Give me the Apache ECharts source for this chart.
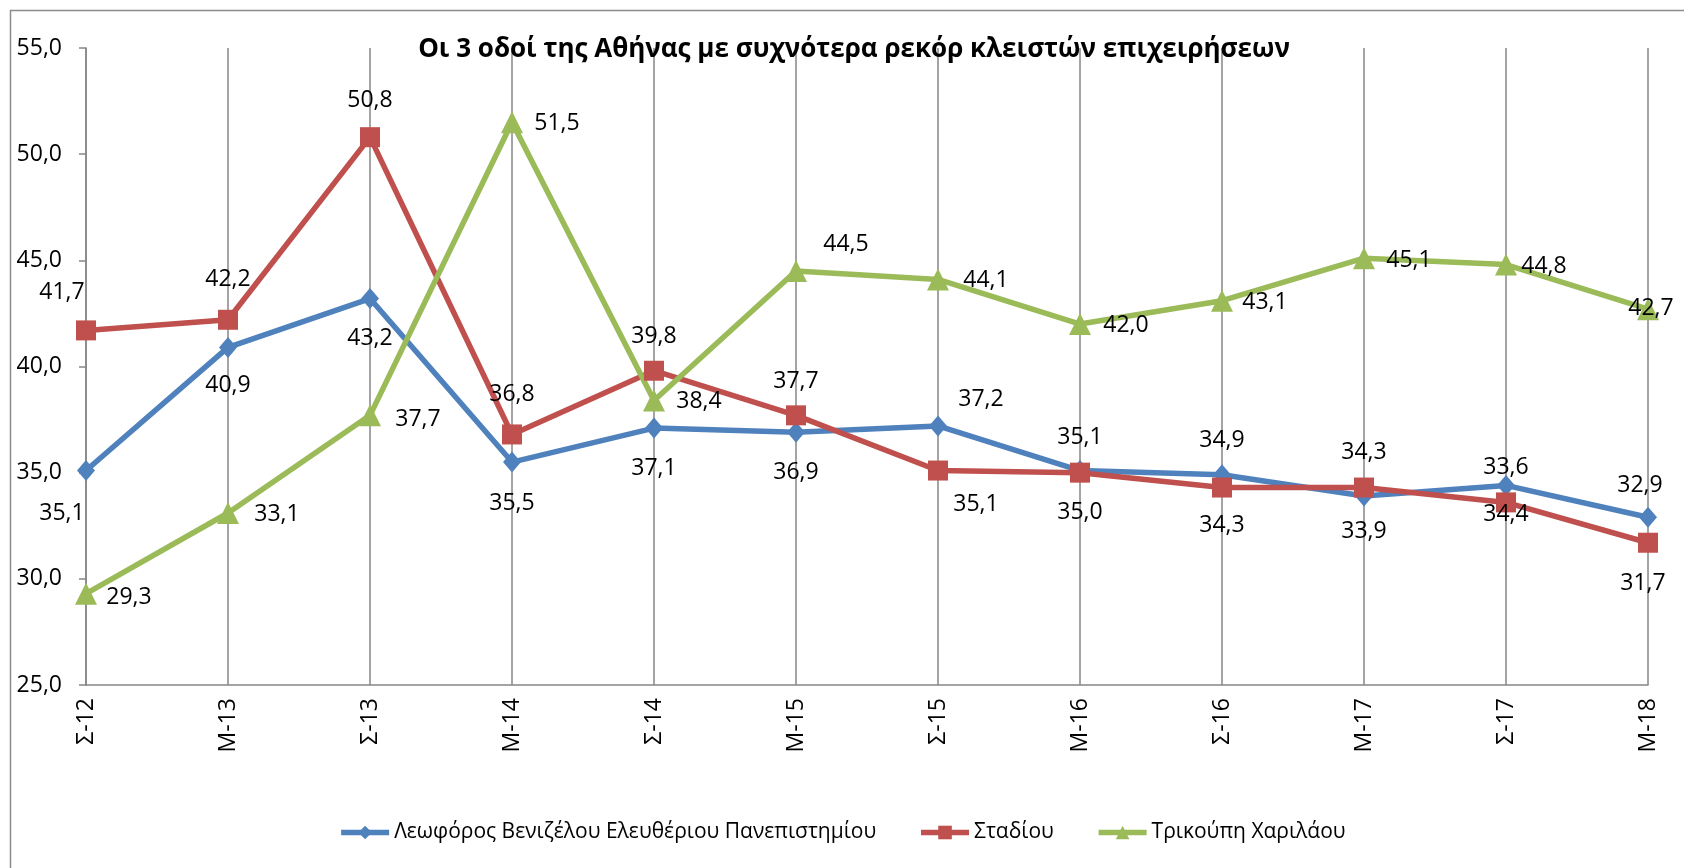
<!DOCTYPE html>
<html>
<head>
<meta charset="utf-8">
<script src="https://cdn.jsdelivr.net/npm/echarts@6/dist/echarts.min.js"></script>
<style>
  html, body { margin: 0; padding: 0; background: #fff; }
  #chart { width: 1684px; height: 868px; }
</style>
</head>
<body>
<div id="chart"></div>
<script>
// Periods (Σ = September, Μ = March)
const categories = ['Σ-12', 'Μ-13', 'Σ-13', 'Μ-14', 'Σ-14', 'Μ-15', 'Σ-15', 'Μ-16', 'Σ-16', 'Μ-17', 'Σ-17', 'Μ-18'];

// Share of closed shops (%) per street
const venizelou = [35.1, 40.9, 43.2, 35.5, 37.1, 36.9, 37.2, 35.1, 34.9, 33.9, 34.4, 32.9];
const stadiou   = [41.7, 42.2, 50.8, 36.8, 39.8, 37.7, 35.1, 35.0, 34.3, 34.3, 33.6, 31.7];
const trikoupi  = [29.3, 33.1, 37.7, 51.5, 38.4, 44.5, 44.1, 42.0, 43.1, 45.1, 44.8, 42.7];

const seriesNames = ['Λεωφόρος Βενιζέλου Ελευθέριου Πανεπιστημίου', 'Σταδίου', 'Τρικούπη Χαριλάου'];
const titleText = 'Οι 3 οδοί της Αθήνας με συχνότερα ρεκόρ κλειστών επιχειρήσεων';

// Label placement (pixel offsets from each marker), kept apart from the values
const blueLabelOffsets  = [[-24, 43], [0, 38], [0, 40], [0, 41], [0, 40], [0, 40], [43, -27], [0, -33], [0, -34], [0, 35], [0, 29], [-8, -32]];
const redLabelOffsets   = [[-24, -38], [0, -40], [0, -37], [0, -40], [0, -34], [0, -34], [38, 34], [0, 40], [0, 38], [0, -35], [0, -35], [-5, 41]];
const greenLabelOffsets = [[43, 4], [49, 1], [48, 4], [45, 1], [45, 1], [50, -26], [48, 1], [46, 1], [43, 2], [45, 2], [38, 2], [3, -1]];

const FONT = 'Open Sans';
const fmt = v => v.toFixed(1).replace('.', ',');

function buildData(values, offsets) {
  return values.map((v, i) => ({
    value: v,
    label: { offset: offsets[i] }
  }));
}

function lineSeries(name, values, offsets, color, symbol, size) {
  return {
    name: name,
    type: 'line',
    data: buildData(values, offsets),
    symbol: symbol,
    symbolSize: size,
    showAllSymbol: true,
    lineStyle: { color: color, width: 5.5 },
    itemStyle: { color: color },
    label: {
      show: true,
      position: 'inside',
      formatter: p => fmt(p.value),
      color: '#000',
      fontFamily: FONT,
      fontSize: 23
    },
    emphasis: { disabled: true },
    animation: false
  };
}

const chart = echarts.init(document.getElementById('chart'), null, { renderer: 'canvas' });

chart.setOption({
  backgroundColor: '#fff',
  animation: false,
  title: {
    text: titleText,
    left: 849,
    top: 32,
    textAlign: 'center',
    textStyle: { fontFamily: FONT, fontWeight: 'bold', fontSize: 26, color: '#000' }
  },
  graphic: [{
    type: 'rect',
    shape: { x: 10.5, y: 10.5, width: 1700, height: 900 },
    style: { fill: 'none', stroke: '#8c8c8c', lineWidth: 1.5 },
    silent: true
  }],
  grid: { left: 86, right: 36, top: 48, bottom: 183, containLabel: false },
  legend: {
    bottom: 20,
    left: 'center',
    itemWidth: 48,
    itemHeight: 17,
    itemGap: 42,
    lineStyle: { width: 5.5 },
    textStyle: { fontFamily: FONT, fontSize: 21, color: '#000' },
    data: seriesNames
  },
  xAxis: {
    type: 'category',
    data: categories,
    boundaryGap: false,
    axisLine: { lineStyle: { color: '#868686', width: 1.5 } },
    axisTick: { show: false },
    axisLabel: { rotate: 90, margin: 13, fontFamily: FONT, fontSize: 23, color: '#000' },
    splitLine: { show: true, lineStyle: { color: '#868686', width: 1.5 } }
  },
  yAxis: {
    type: 'value',
    min: 25,
    max: 55,
    interval: 5,
    axisLine: { show: true, lineStyle: { color: '#868686', width: 1.5 } },
    axisTick: { show: true, length: 7, lineStyle: { color: '#868686', width: 1.5 } },
    axisLabel: { margin: 24, formatter: v => fmt(v), fontFamily: FONT, fontSize: 23, color: '#000' },
    splitLine: { show: false }
  },
  series: [
    lineSeries(seriesNames[0], venizelou, blueLabelOffsets, '#4F81BD', 'diamond', [18, 21]),
    lineSeries(seriesNames[1], stadiou, redLabelOffsets, '#C0504D', 'rect', 20),
    lineSeries(seriesNames[2], trikoupi, greenLabelOffsets, '#9BBB59', 'triangle', 22)
  ]
});
</script>
</body>
</html>
